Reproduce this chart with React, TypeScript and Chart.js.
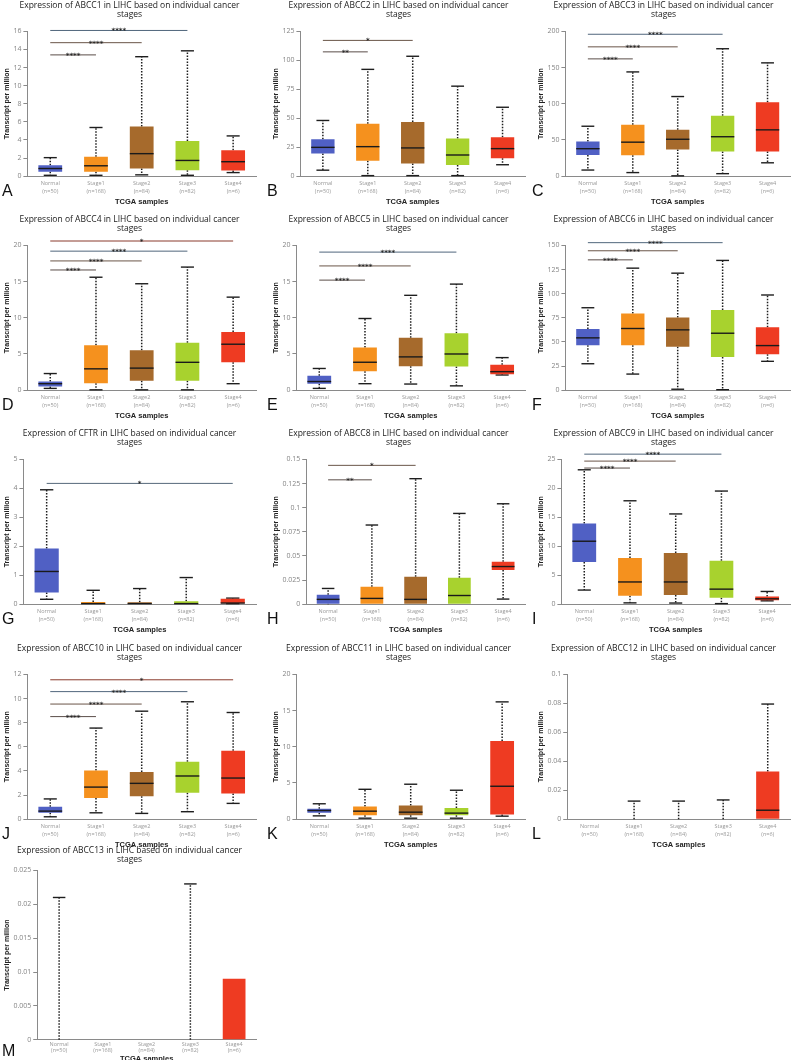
import React, { useEffect, useRef } from 'react';
import { Chart, registerables } from 'chart.js';
Chart.register(...registerables);

const CATEGORIES = ['Normal', 'Stage1', 'Stage2', 'Stage3', 'Stage4'];
const SAMPLE_SIZES = ['(n=50)', '(n=168)', '(n=84)', '(n=82)', '(n=6)'];
const BOX_COLORS = ['#5060c4', '#f5911e', '#a66a2c', '#a8d22e', '#ee3b22'];
const SIG_COLORS = ['#555', '#5a4d48', '#6a5548', '#50667c', '#8a3b2c'];
const SIG_COLOR_SINGLE = '#56687a';
const GENES = ['ABCC1', 'ABCC2', 'ABCC3', 'ABCC4', 'ABCC5', 'ABCC6', 'CFTR', 'ABCC8', 'ABCC9', 'ABCC10', 'ABCC11', 'ABCC12', 'ABCC13'];
const PANEL_LETTERS = ['A', 'B', 'C', 'D', 'E', 'F', 'G', 'H', 'I', 'J', 'K', 'L', 'M'];
const Y_MAX = [16, 125, 200, 20, 20, 150, 5, 0.15, 25, 12, 20, 0.1, 0.025];
const Y_STEP = [2, 25, 50, 5, 5, 25, 1, 0.025, 5, 2, 5, 0.02, 0.005];

// [lower whisker, Q1, median, Q3, upper whisker] for Normal, Stage1..Stage4
const ABCC1 = [[0.1, 0.48, 0.85, 1.22, 2.05], [0.1, 0.5, 1.15, 2.15, 5.38], [0.15, 0.85, 2.49, 5.5, 13.2], [0.1, 0.67, 1.74, 3.9, 13.85], [0.4, 0.63, 1.6, 2.86, 4.45]];
const ABCC2 = [[5.2, 19.5, 24.9, 31.9, 48.1], [0.5, 13.3, 25.5, 45.2, 92.2], [0.5, 11, 24.4, 46.7, 103.5], [0.5, 9.6, 18.3, 32.5, 77.7], [9.9, 15.4, 23.8, 33.6, 59.5]];
const ABCC3 = [[8.5, 29.2, 38, 47.8, 69], [5, 29, 47, 71, 144], [0.5, 37, 51, 64, 110], [3.5, 34, 54.5, 83.5, 176], [18.5, 34, 64, 102, 156.5]];
const ABCC4 = [[0.25, 0.5, 0.9, 1.2, 2.3], [0.05, 0.95, 2.95, 6.2, 15.6], [0.05, 1.3, 3.05, 5.5, 14.7], [0.05, 1.3, 3.85, 6.55, 17], [0.9, 3.85, 6.35, 8.05, 12.85]];
const ABCC5 = [[0.25, 0.9, 1.2, 2.0, 3.0], [0.9, 2.6, 3.86, 5.9, 9.9], [0.85, 3.3, 4.6, 7.25, 13.1], [0.6, 3.26, 5.0, 7.86, 14.65], [2.1, 2.2, 2.56, 3.5, 4.5]];
const ABCC6 = [[27.4, 46.5, 54.2, 63.5, 85.4], [16.7, 46.5, 63.9, 79.5, 126.4], [1, 45.1, 62.5, 75.3, 121.2], [0.5, 34.4, 59, 83, 134.4], [29.9, 37.2, 46.2, 65.3, 98.6]];
const CFTR = [[0.17, 0.4, 1.13, 1.92, 3.95], [0, 0, 0.02, 0.08, 0.48], [0, 0, 0.02, 0.07, 0.54], [0, 0, 0.02, 0.1, 0.92], [0.02, 0.03, 0.04, 0.19, 0.21]];
const ABCC8 = [[0, 0.0005, 0.005, 0.0098, 0.0163], [0, 0, 0.006, 0.018, 0.082], [0, 0, 0.005, 0.0285, 0.13], [0, 0, 0.009, 0.0275, 0.094], [0.0053, 0.0355, 0.039, 0.044, 0.104]];
const ABCC9 = [[2.44, 7.27, 10.87, 13.95, 23.2], [0.23, 1.45, 3.84, 7.97, 17.85], [0.2, 1.57, 3.84, 8.84, 15.58], [0.1, 1.1, 2.6, 7.5, 19.53], [0.58, 0.7, 0.93, 1.34, 2.2]];
const ABCC10 = [[0.2, 0.53, 0.67, 1.03, 1.68], [0.53, 1.76, 2.66, 4.03, 7.55], [0.48, 1.9, 2.97, 3.92, 8.95], [0.62, 2.2, 3.58, 4.76, 9.73], [1.31, 2.13, 3.41, 5.68, 8.84]];
const ABCC11 = [[0.46, 0.88, 1.2, 1.44, 2.13], [0.14, 0.56, 1.11, 1.76, 4.13], [0.14, 0.56, 0.97, 1.9, 4.83], [0.14, 0.56, 0.84, 1.53, 4.0], [0.42, 0.65, 4.55, 10.8, 16.2]];
const ABCC12 = [[0, 0, 0, 0, 0], [0, 0, 0, 0, 0.0125], [0, 0, 0, 0, 0.0125], [0, 0, 0, 0, 0.0133], [0, 0, 0.0062, 0.033, 0.0795]];
const ABCC13 = [[0, 0, 0, 0, 0.021], [0, 0, 0, 0, 0], [0, 0, 0, 0, 0], [0, 0, 0, 0, 0.023], [0, 0, 0, 0.009, 0.009]];

// significance bars from Normal: [target category index, y value, label]
const ABCC1_SIG = [[1, 13.4, '****'], [2, 14.75, '****'], [3, 16.1, '****']];
const ABCC2_SIG = [[1, 107.3, '**'], [2, 117.2, '*']];
const ABCC3_SIG = [[1, 162, '****'], [2, 178.6, '****'], [3, 196, '****']];
const ABCC4_SIG = [[1, 16.6, '****'], [2, 17.85, '****'], [3, 19.2, '****'], [4, 20.6, '*']];
const ABCC5_SIG = [[1, 15.2, '****'], [2, 17.16, '****'], [3, 19.07, '****']];
const ABCC6_SIG = [[1, 135, '****'], [2, 144.4, '****'], [3, 152.8, '****']];
const CFTR_SIG = [[4, 4.17, '*']];
const ABCC8_SIG = [[1, 0.1288, '**'], [2, 0.1438, '*']];
const ABCC9_SIG = [[1, 23.5, '****'], [2, 24.7, '****'], [3, 25.9, '****']];
const ABCC10_SIG = [[1, 8.5, '****'], [2, 9.54, '****'], [3, 10.57, '****'], [4, 11.55, '*']];
const ABCC11_SIG = [];
const ABCC12_SIG = [];
const ABCC13_SIG = [];

const STATS = [ABCC1, ABCC2, ABCC3, ABCC4, ABCC5, ABCC6, CFTR, ABCC8, ABCC9, ABCC10, ABCC11, ABCC12, ABCC13];
const SIGS = [ABCC1_SIG, ABCC2_SIG, ABCC3_SIG, ABCC4_SIG, ABCC5_SIG, ABCC6_SIG, CFTR_SIG, ABCC8_SIG, ABCC9_SIG, ABCC10_SIG, ABCC11_SIG, ABCC12_SIG, ABCC13_SIG];

const COL_LEFT = [0, 269, 534];
const ROW_TOP = [0, 214, 428, 643, 845];
const LETTER_LEFT = [2, 267, 532];
const PANEL_W = 266;

function fmt(v: number) {
  return String(Number(Number(v).toFixed(4)));
}

function Panel({ index }: { index: number }) {
  const ref = useRef<HTMLCanvasElement | null>(null);
  const isLast = index === 12;
  const h = isLast ? 218 : 206;
  const left = COL_LEFT[index % 3];
  const top = ROW_TOP[Math.floor(index / 3)];

  useEffect(() => {
    const stats = STATS[index];
    const sigs = SIGS[index];
    const plugin = {
      id: 'boxExtras',
      beforeDatasetsDraw(chart: any) {
        const { ctx } = chart;
        const y = chart.scales.y;
        const meta = chart.getDatasetMeta(0);
        stats.forEach((s: number[], i: number) => {
          const bar = meta.data[i] as any;
          const cx = bar.x;
          const capW = bar.width * 0.55;
          ctx.save();
          ctx.strokeStyle = '#1e1e1e';
          if (s[4] > s[3]) {
            ctx.lineWidth = 1.5;
            ctx.setLineDash([1.5, 1.5]);
            ctx.beginPath();
            ctx.moveTo(cx, y.getPixelForValue(s[3]));
            ctx.lineTo(cx, y.getPixelForValue(s[4]));
            ctx.stroke();
            ctx.setLineDash([]);
            ctx.lineWidth = 1.4;
            ctx.beginPath();
            const py = y.getPixelForValue(s[4]);
            ctx.moveTo(cx - capW / 2, py);
            ctx.lineTo(cx + capW / 2, py);
            ctx.stroke();
          }
          if (s[1] > s[0]) {
            ctx.lineWidth = 1.5;
            ctx.setLineDash([1.5, 1.5]);
            ctx.beginPath();
            ctx.moveTo(cx, y.getPixelForValue(s[1]));
            ctx.lineTo(cx, y.getPixelForValue(s[0]));
            ctx.stroke();
            ctx.setLineDash([]);
          }
          if (s[0] > 0 && s[1] > s[0]) {
            ctx.lineWidth = 1.4;
            ctx.beginPath();
            const py = y.getPixelForValue(s[0]);
            ctx.moveTo(cx - capW / 2, py);
            ctx.lineTo(cx + capW / 2, py);
            ctx.stroke();
          }
          ctx.restore();
        });
      },
      afterDatasetsDraw(chart: any) {
        const { ctx } = chart;
        const x = chart.scales.x;
        const y = chart.scales.y;
        const meta = chart.getDatasetMeta(0);
        stats.forEach((s: number[], i: number) => {
          if (s[2] <= 0 || s[3] <= s[1]) return;
          const bar = meta.data[i] as any;
          const py = y.getPixelForValue(s[2]);
          ctx.save();
          ctx.strokeStyle = '#1a1a1a';
          ctx.lineWidth = 1.4;
          ctx.beginPath();
          ctx.moveTo(bar.x - bar.width / 2, py);
          ctx.lineTo(bar.x + bar.width / 2, py);
          ctx.stroke();
          ctx.restore();
        });
        sigs.forEach((g: any[]) => {
          const x0 = x.getPixelForValue(0);
          const x1 = x.getPixelForValue(g[0]);
          const py = y.getPixelForValue(g[1]);
          ctx.save();
          ctx.strokeStyle = sigs.length === 1 ? SIG_COLOR_SINGLE : SIG_COLORS[g[0]];
          ctx.lineWidth = 1;
          ctx.beginPath();
          ctx.moveTo(x0, py);
          ctx.lineTo(x1, py);
          ctx.stroke();
          ctx.fillStyle = '#2a2a2a';
          ctx.font = 'bold 7px "DejaVu Sans"';
          ctx.textAlign = 'center';
          ctx.textBaseline = 'alphabetic';
          ctx.fillText(g[2], (x0 + x1) / 2, py + 3);
          ctx.restore();
        });
      },
    };

    const chart = new Chart(ref.current as HTMLCanvasElement, {
      type: 'bar',
      data: {
        labels: CATEGORIES.map((c, i) => [c, SAMPLE_SIZES[i]]),
        datasets: [
          {
            data: stats.map((s) => [s[1], s[3]]) as any,
            backgroundColor: BOX_COLORS,
            borderWidth: 0,
            barPercentage: 0.52,
            categoryPercentage: 1,
          },
        ],
      },
      options: {
        animation: false,
        responsive: false,
        maintainAspectRatio: false,
        layout: { padding: { left: 3, right: 10, top: 0, bottom: 0 } },
        plugins: {
          legend: { display: false },
          tooltip: { enabled: false },
          title: {
            display: true,
            text: [`Expression of ${GENES[index]} in LIHC based on individual cancer`, 'stages'],
            font: { family: 'Open Sans', size: 8.5, lineHeight: 1.08, weight: 'normal' },
            color: '#1a1a1a',
            padding: { top: 1, bottom: isLast ? 6 : 12 },
          },
        },
        scales: {
          x: {
            grid: { display: false, drawTicks: false },
            border: { display: true, color: '#8a8a8a', width: 1 },
            ticks: {
              font: { family: 'Open Sans', size: 5.5, lineHeight: isLast ? 1.15 : 1.5 },
              color: '#9a9a9a',
              padding: isLast ? 1.5 : 2.9,
              maxRotation: 0,
              autoSkip: false,
            },
            title: {
              display: true,
              text: 'TCGA samples',
              font: { family: 'Liberation Sans', size: 7.5, weight: 'bold', lineHeight: 1 },
              color: '#222',
              padding: { top: 0, bottom: 0 },
            },
          },
          y: {
            min: 0,
            max: Y_MAX[index],
            ticks: {
              stepSize: Y_STEP[index],
              color: '#858585',
              font: { family: 'Open Sans', size: 7 },
              padding: 2,
              callback: (v: any) => fmt(v),
            },
            grid: { display: true, drawOnChartArea: false, drawTicks: true, tickLength: 4, color: '#8a8a8a' },
            border: { display: true, color: '#8a8a8a', width: 1 },
            title: {
              display: true,
              text: 'Transcript per million',
              font: { family: 'Liberation Sans', size: 7, weight: 'bold' },
              color: '#222',
              padding: 0,
            },
          },
        },
      } as any,
      plugins: [plugin as any],
    });
    return () => chart.destroy();
  }, [index]);

  return (
    <>
      <canvas
        ref={ref}
        width={PANEL_W}
        height={h}
        style={{ position: 'absolute', left, top, width: PANEL_W, height: h }}
      />
      <span
        style={{
          position: 'absolute',
          left: LETTER_LEFT[index % 3],
          top: top + (isLast ? 198 : 183),
          fontFamily: 'Liberation Sans, Arial, sans-serif',
          fontSize: 16,
          lineHeight: '16px',
          color: '#111',
        }}
      >
        {PANEL_LETTERS[index]}
      </span>
    </>
  );
}

export default function App() {
  return (
    <div style={{ position: 'absolute', left: 0, top: 0, width: 800, height: 1060, background: '#fff', overflow: 'hidden' }}>
      {GENES.map((g, i) => (
        <Panel key={g} index={i} />
      ))}
    </div>
  );
}
